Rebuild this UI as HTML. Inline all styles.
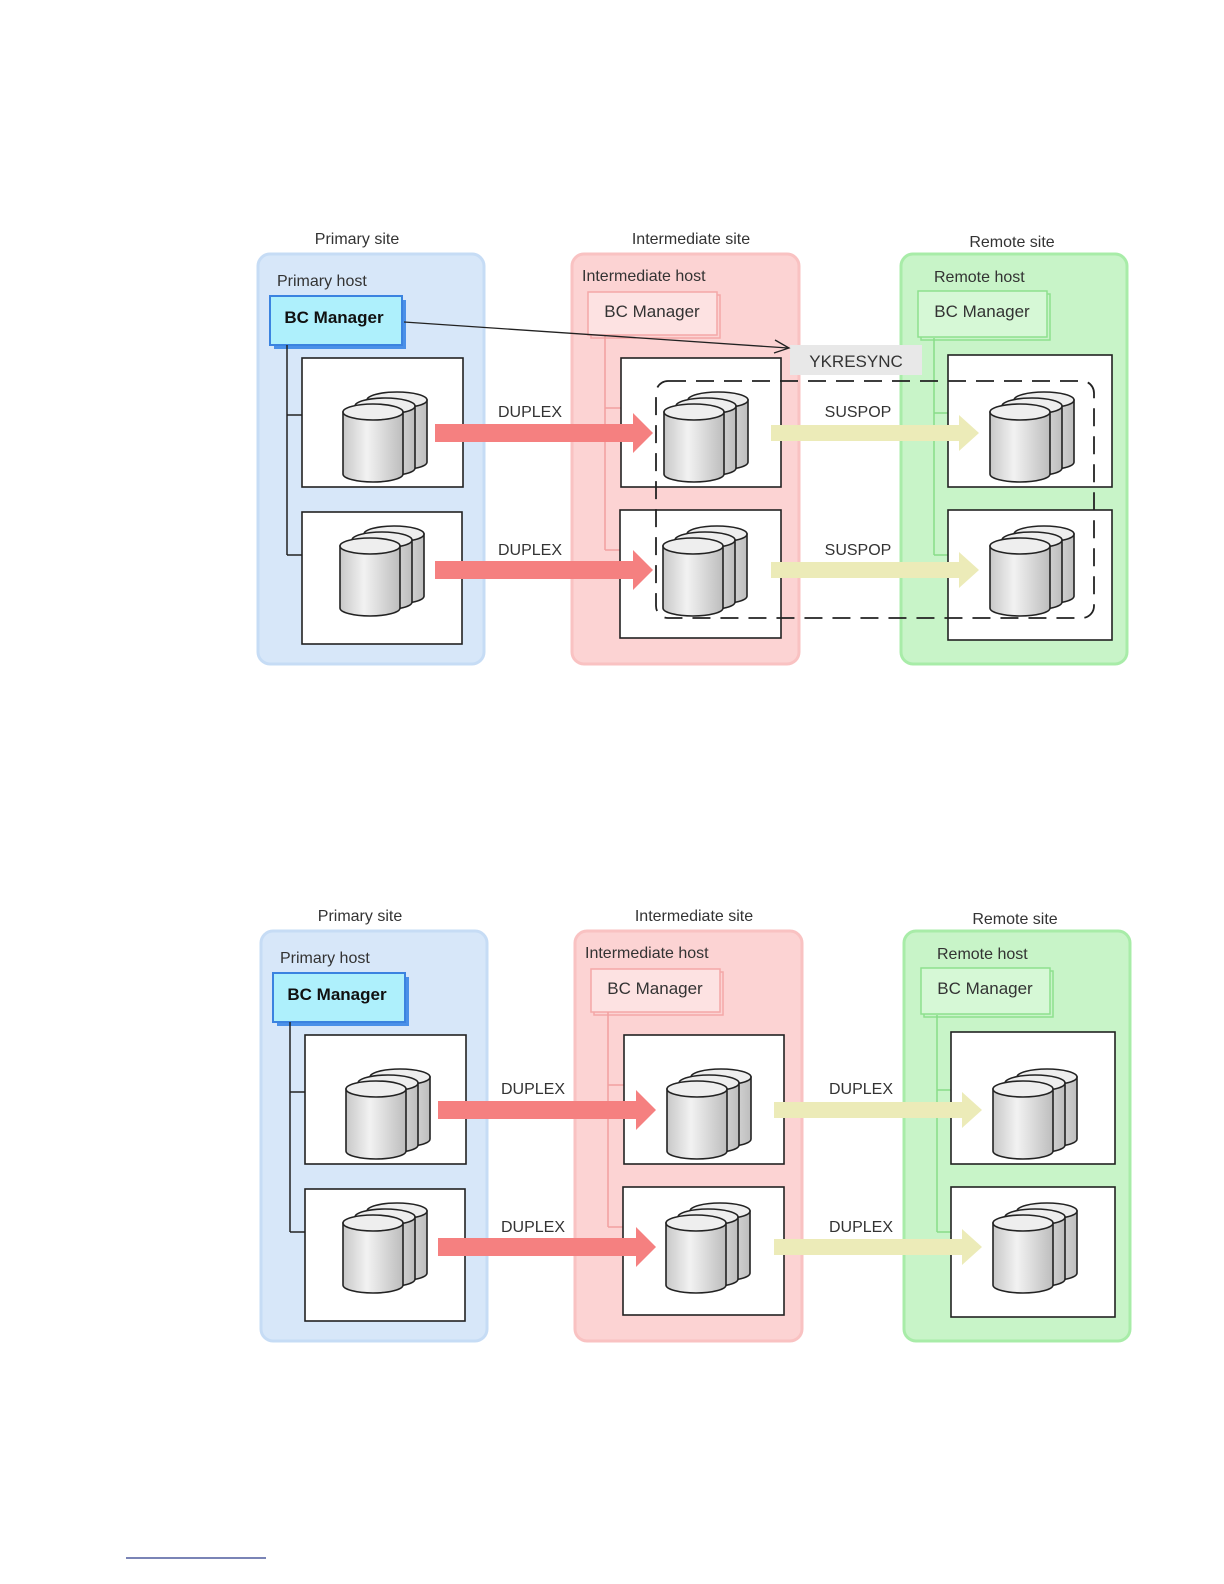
<!DOCTYPE html>
<html><head><meta charset="utf-8"><style>
html,body{margin:0;padding:0;background:#fff;overflow:hidden;width:1224px;height:1584px}
svg{display:block}
text{font-family:"Liberation Sans",sans-serif;fill:#333}
</style></head><body>
<svg width="1224" height="1584" viewBox="0 0 1224 1584" xmlns="http://www.w3.org/2000/svg">
<defs>
<linearGradient id="cg" x1="0" x2="1" y1="0" y2="0">
<stop offset="0" stop-color="#c8c8c8"/><stop offset="0.4" stop-color="#f2f2f2"/><stop offset="1" stop-color="#bdbdbd"/>
</linearGradient>
<g id="cyl1">
<path d="M0,8 L0,70 A30,8 0 0 0 60,70 L60,8 Z" fill="url(#cg)" stroke="#222" stroke-width="1.6"/>
<ellipse cx="30" cy="8" rx="30" ry="8" fill="#eee" stroke="#222" stroke-width="1.6"/>
</g>
<g id="cyl">
<use href="#cyl1" x="24" y="-12"/>
<use href="#cyl1" x="12" y="-6"/>
<use href="#cyl1" x="0" y="0"/>
</g>
<g id="red"><path d="M0,-9 L198,-9 L198,-20 L218,0 L198,20 L198,9 L0,9 Z" fill="#f58080"/></g>
<g id="yel"><path d="M0,-8 L188,-8 L188,-18 L208,0 L188,18 L188,8 L0,8 Z" fill="#ecebb8"/></g>
<g id="base">
<rect x="258" y="254" width="226" height="410" rx="12" fill="#d7e7f9" stroke="#c6dcf5" stroke-width="3"/>
<rect x="572" y="254" width="227" height="410" rx="12" fill="#fcd3d3" stroke="#f9c2c2" stroke-width="3"/>
<rect x="901" y="254" width="226" height="410" rx="12" fill="#c8f4c8" stroke="#a8eca8" stroke-width="3"/>
<rect x="274" y="300" width="132" height="49" fill="#4a90e8"/>
<rect x="270" y="296" width="132" height="49" fill="#aef0fc" stroke="#3b83e0" stroke-width="2"/>
<line x1="287" y1="345" x2="287" y2="555" stroke="#222" stroke-width="1.5"/>
<line x1="287" y1="415" x2="302" y2="415" stroke="#222" stroke-width="1.5"/>
<line x1="287" y1="555" x2="302" y2="555" stroke="#222" stroke-width="1.5"/>
<rect x="302" y="358" width="161" height="129" fill="#fff" stroke="#222" stroke-width="1.6"/>
<rect x="302" y="512" width="160" height="132" fill="#fff" stroke="#222" stroke-width="1.6"/>
<rect x="591" y="295" width="129" height="43" fill="none" stroke="#f4a8a8" stroke-width="1.5"/>
<rect x="588" y="292" width="129" height="43" fill="#fde2e2" stroke="#f4a8a8" stroke-width="1.5"/>
<line x1="605" y1="335" x2="605" y2="550" stroke="#f2a0a0" stroke-width="1.5"/>
<line x1="605" y1="408" x2="621" y2="408" stroke="#f2a0a0" stroke-width="1.5"/>
<line x1="605" y1="550" x2="620" y2="550" stroke="#f2a0a0" stroke-width="1.5"/>
<rect x="621" y="358" width="160" height="129" fill="#fff" stroke="#222" stroke-width="1.6"/>
<rect x="620" y="510" width="161" height="128" fill="#fff" stroke="#222" stroke-width="1.6"/>
<rect x="921" y="294" width="129" height="46" fill="none" stroke="#8ee08e" stroke-width="1.5"/>
<rect x="918" y="291" width="129" height="46" fill="#d6f8d6" stroke="#8ee08e" stroke-width="1.5"/>
<line x1="934" y1="338" x2="934" y2="555" stroke="#88dd88" stroke-width="1.5"/>
<line x1="934" y1="413" x2="948" y2="413" stroke="#88dd88" stroke-width="1.5"/>
<line x1="934" y1="555" x2="948" y2="555" stroke="#88dd88" stroke-width="1.5"/>
<rect x="948" y="355" width="164" height="132" fill="#fff" stroke="#222" stroke-width="1.6"/>
<rect x="948" y="510" width="164" height="130" fill="#fff" stroke="#222" stroke-width="1.6"/>
<use href="#cyl" x="343" y="404"/>
<use href="#cyl" x="340" y="538"/>
<use href="#cyl" x="664" y="404"/>
<use href="#cyl" x="663" y="538"/>
<use href="#cyl" x="990" y="404"/>
<use href="#cyl" x="990" y="538"/>
<use href="#red" x="435" y="433"/>
<use href="#red" x="435" y="570"/>
<use href="#yel" x="771" y="433"/>
<use href="#yel" x="771" y="570"/>
</g>
</defs>

<use href="#base"/>
<text x="357" y="244" font-size="16" text-anchor="middle">Primary site</text>
<text x="691" y="244" font-size="16" text-anchor="middle">Intermediate site</text>
<text x="1012" y="247" font-size="16" text-anchor="middle">Remote site</text>
<text x="277" y="286" font-size="16">Primary host</text>
<text x="582" y="281" font-size="16">Intermediate host</text>
<text x="934" y="282" font-size="16">Remote host</text>
<text x="334" y="323" font-size="17" font-weight="bold" text-anchor="middle" style="fill:#111">BC Manager</text>
<text x="652" y="317" font-size="17" text-anchor="middle">BC Manager</text>
<text x="982" y="317" font-size="17" text-anchor="middle">BC Manager</text>
<text x="530" y="417" font-size="16" text-anchor="middle">DUPLEX</text>
<text x="530" y="555" font-size="16" text-anchor="middle">DUPLEX</text>
<text x="858" y="417" font-size="16" text-anchor="middle">SUSPOP</text>
<text x="858" y="555" font-size="16" text-anchor="middle">SUSPOP</text>
<rect x="790" y="345" width="132" height="30" fill="#e8e8e8"/>
<text x="856" y="367" font-size="17" text-anchor="middle">YKRESYNC</text>
<line x1="404" y1="322" x2="788" y2="348" stroke="#222" stroke-width="1.3"/>
<path d="M775,340 L789,348 L774,353" fill="none" stroke="#222" stroke-width="1.3"/>
<rect x="656" y="381" width="438" height="237" rx="12" fill="none" stroke="#222" stroke-width="1.8" stroke-dasharray="18,10"/>

<g transform="translate(3,677)"><use href="#base"/></g>
<text x="360" y="921" font-size="16" text-anchor="middle">Primary site</text>
<text x="694" y="921" font-size="16" text-anchor="middle">Intermediate site</text>
<text x="1015" y="924" font-size="16" text-anchor="middle">Remote site</text>
<text x="280" y="963" font-size="16">Primary host</text>
<text x="585" y="958" font-size="16">Intermediate host</text>
<text x="937" y="959" font-size="16">Remote host</text>
<text x="337" y="1000" font-size="17" font-weight="bold" text-anchor="middle" style="fill:#111">BC Manager</text>
<text x="655" y="994" font-size="17" text-anchor="middle">BC Manager</text>
<text x="985" y="994" font-size="17" text-anchor="middle">BC Manager</text>
<text x="533" y="1094" font-size="16" text-anchor="middle">DUPLEX</text>
<text x="533" y="1232" font-size="16" text-anchor="middle">DUPLEX</text>
<text x="861" y="1094" font-size="16" text-anchor="middle">DUPLEX</text>
<text x="861" y="1232" font-size="16" text-anchor="middle">DUPLEX</text>

<line x1="126" y1="1558" x2="266" y2="1558" stroke="#2a3a8a" stroke-width="1.2"/>
</svg>
</body></html>
